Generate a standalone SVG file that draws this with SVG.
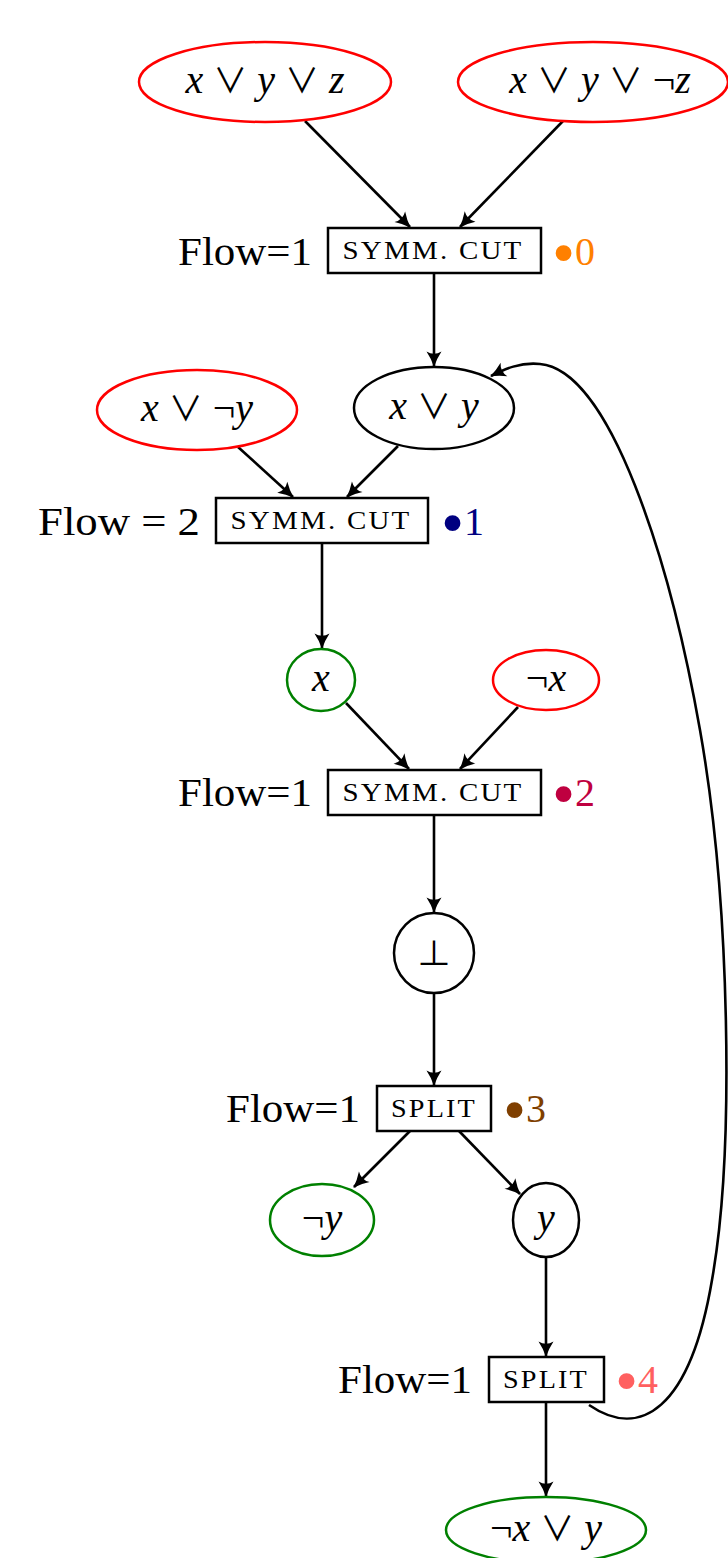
<svg xmlns="http://www.w3.org/2000/svg" width="728" height="1558" viewBox="0 0 728 1558">
  <style>
    .bg { fill: #ffffff; }
    .node { fill: none; stroke-width: 2.5; }
    .red { stroke: #ff0000; }
    .green { stroke: #008000; }
    .black { stroke: #000000; }
    .box { fill: #ffffff; stroke: #000000; stroke-width: 2.5; }
    .math { font-family: "Liberation Serif", "DejaVu Serif", serif; font-size: 40px; fill: #000; }
    .v { font-style: italic; }
    .op { font-family: "Noto Sans CJK SC", "DejaVu Sans", sans-serif; font-size: 34px; }
    .flow { font-family: "Liberation Serif", "DejaVu Serif", serif; font-size: 41px; fill: #000; text-anchor: end; }
    .sc { font-family: "Liberation Serif", "DejaVu Serif", serif; font-size: 26px; fill: #000; text-anchor: middle; letter-spacing: 2px; }
    .tag { font-family: "Liberation Serif", "DejaVu Serif", serif; font-size: 40px; }
    .dot { font-size: 66px; }
    .edge { fill: none; stroke: #000; stroke-width: 2.6; marker-end: url(#tip); }
  </style>
  <defs>
    <marker id="tip" markerUnits="userSpaceOnUse" viewBox="-16 -9 18 18" refX="0" refY="0" markerWidth="18" markerHeight="18" orient="auto">
      <path d="M1,0 Q-7,-2.5 -14.5,-7.5 Q-10,0 -14.5,7.5 Q-7,2.5 1,0 Z" fill="#000"/>
    </marker>
  </defs>
  <rect class="bg" x="0" y="0" width="728" height="1558"/>

  <!-- connectors -->
  <g id="connectors">
    <line class="edge" x1="305" y1="121" x2="410" y2="227"/>
    <line class="edge" x1="563" y1="121" x2="460" y2="227"/>
    <line class="edge" x1="434" y1="273" x2="434" y2="366"/>
    <line class="edge" x1="238" y1="447" x2="293" y2="497"/>
    <line class="edge" x1="398" y1="446" x2="347" y2="497"/>
    <line class="edge" x1="322" y1="543" x2="322" y2="648"/>
    <line class="edge" x1="346" y1="703" x2="409" y2="769"/>
    <line class="edge" x1="518" y1="707" x2="460" y2="769"/>
    <line class="edge" x1="434" y1="815" x2="434" y2="912"/>
    <line class="edge" x1="434" y1="993" x2="434" y2="1085"/>
    <line class="edge" x1="410" y1="1131" x2="354" y2="1187"/>
    <line class="edge" x1="459" y1="1131" x2="520" y2="1194"/>
    <line class="edge" x1="546" y1="1257" x2="546" y2="1356"/>
    <line class="edge" x1="546" y1="1402" x2="546" y2="1496"/>
    <!-- feedback edge from the last split back to x ∨ y -->
    <path class="edge" d="M589,1405 C640,1440 690,1410 712,1280 C735,1150 730,900 700,730 C670,560 610,370 540,364 C520,362 505,369 491,376"/>
  </g>

  <g id="c-xyz">
    <ellipse class="node red" cx="265" cy="82" rx="126" ry="40"/>
    <text class="math" x="265" y="93" text-anchor="middle"><tspan class="v">x</tspan> <tspan class="op">∨</tspan> <tspan class="v">y</tspan> <tspan class="op">∨</tspan> <tspan class="v">z</tspan></text>
  </g>
  <g id="c-xy-notz">
    <ellipse class="node red" cx="593" cy="82" rx="135" ry="40"/>
    <text class="math" x="600" y="93" text-anchor="middle"><tspan class="v">x</tspan> <tspan class="op">∨</tspan> <tspan class="v">y</tspan> <tspan class="op">∨</tspan> ¬<tspan class="v">z</tspan></text>
  </g>

  <g id="cut0">
    <text class="flow" x="312" y="265" textLength="134" lengthAdjust="spacingAndGlyphs">Flow=1</text>
    <rect class="box" x="328" y="228" width="213" height="45"/>
    <text class="sc" x="433" y="259" textLength="181" lengthAdjust="spacingAndGlyphs">SYMM.  CUT</text>
    <text class="tag" x="552" y="265" fill="#ff8000"><tspan class="dot" dy="10">•</tspan><tspan dy="-10">0</tspan></text>
  </g>

  <g id="c-x-noty">
    <ellipse class="node red" cx="197" cy="410" rx="100" ry="40"/>
    <text class="math" x="197" y="421" text-anchor="middle"><tspan class="v">x</tspan> <tspan class="op">∨</tspan> ¬<tspan class="v">y</tspan></text>
  </g>
  <g id="c-xy">
    <ellipse class="node black" cx="434" cy="408" rx="80" ry="41"/>
    <text class="math" x="434" y="419" text-anchor="middle"><tspan class="v">x</tspan> <tspan class="op">∨</tspan> <tspan class="v">y</tspan></text>
  </g>

  <g id="cut1">
    <text class="flow" x="200" y="535" textLength="162" lengthAdjust="spacingAndGlyphs">Flow = 2</text>
    <rect class="box" x="216" y="498" width="212" height="45"/>
    <text class="sc" x="321" y="529" textLength="181" lengthAdjust="spacingAndGlyphs">SYMM.  CUT</text>
    <text class="tag" x="441" y="535" fill="#000080"><tspan class="dot" dy="10">•</tspan><tspan dy="-10">1</tspan></text>
  </g>

  <g id="c-x">
    <ellipse class="node green" cx="321" cy="680" rx="34" ry="31"/>
    <text class="math" x="321" y="691" text-anchor="middle"><tspan class="v">x</tspan></text>
  </g>
  <g id="c-notx">
    <ellipse class="node red" cx="546" cy="680" rx="53" ry="30"/>
    <text class="math" x="546" y="691" text-anchor="middle">¬<tspan class="v">x</tspan></text>
  </g>

  <g id="cut2">
    <text class="flow" x="312" y="806" textLength="134" lengthAdjust="spacingAndGlyphs">Flow=1</text>
    <rect class="box" x="328" y="770" width="213" height="45"/>
    <text class="sc" x="433" y="801" textLength="181" lengthAdjust="spacingAndGlyphs">SYMM.  CUT</text>
    <text class="tag" x="552" y="806" fill="#bf0040"><tspan class="dot" dy="10">•</tspan><tspan dy="-10">2</tspan></text>
  </g>

  <g id="c-bot">
    <ellipse class="node black" cx="434" cy="953" rx="40" ry="40"/>
    <text class="math" x="434" y="966" text-anchor="middle"><tspan class="op">⊥</tspan></text>
  </g>

  <g id="split3">
    <text class="flow" x="360" y="1122" textLength="134" lengthAdjust="spacingAndGlyphs">Flow=1</text>
    <rect class="box" x="377" y="1086" width="114" height="45"/>
    <text class="sc" x="434" y="1117" textLength="86" lengthAdjust="spacingAndGlyphs">SPLIT</text>
    <text class="tag" x="503" y="1122" fill="#7f3f00"><tspan class="dot" dy="10">•</tspan><tspan dy="-10">3</tspan></text>
  </g>

  <g id="c-noty">
    <ellipse class="node green" cx="322" cy="1220" rx="52" ry="36"/>
    <text class="math" x="322" y="1231" text-anchor="middle">¬<tspan class="v">y</tspan></text>
  </g>
  <g id="c-y">
    <ellipse class="node black" cx="546" cy="1220" rx="33" ry="37"/>
    <text class="math" x="546" y="1231" text-anchor="middle"><tspan class="v">y</tspan></text>
  </g>

  <g id="split4">
    <text class="flow" x="472" y="1393" textLength="134" lengthAdjust="spacingAndGlyphs">Flow=1</text>
    <rect class="box" x="489" y="1357" width="115" height="45"/>
    <text class="sc" x="546" y="1388" textLength="86" lengthAdjust="spacingAndGlyphs">SPLIT</text>
    <text class="tag" x="615" y="1393" fill="#ff6060"><tspan class="dot" dy="10">•</tspan><tspan dy="-10">4</tspan></text>
  </g>

  <g id="c-notx-y">
    <ellipse class="node green" cx="546" cy="1530" rx="100" ry="33"/>
    <text class="math" x="546" y="1541" text-anchor="middle">¬<tspan class="v">x</tspan> <tspan class="op">∨</tspan> <tspan class="v">y</tspan></text>
  </g>
</svg>
